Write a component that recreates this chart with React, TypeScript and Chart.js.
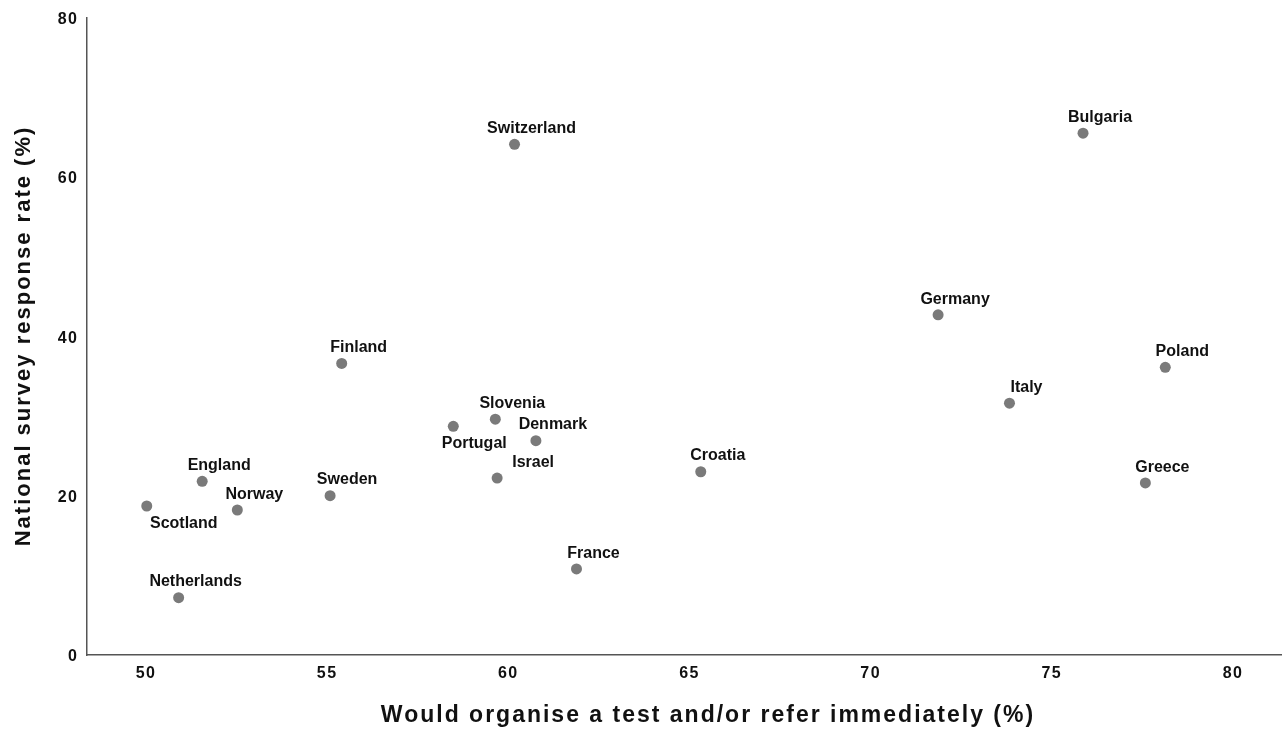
import React, { useEffect, useRef } from 'react';
import { Chart, registerables } from 'chart.js';

Chart.register(...registerables);

const countries = [
  'Switzerland', 'Bulgaria', 'Germany', 'Poland', 'Italy', 'Greece', 'Croatia', 'France', 'Finland',
  'Slovenia', 'Portugal', 'Denmark', 'Israel', 'Sweden', 'England', 'Norway', 'Scotland', 'Netherlands',
];
const testOrRefer = [
  60.17, 75.86, 71.86, 78.13, 73.83, 77.58, 65.31, 61.88, 55.4,
  59.64, 58.48, 60.76, 59.69, 55.08, 51.55, 52.52, 50.02, 50.9,
];
const responseRate = [
  64.1, 65.5, 42.7, 36.1, 31.6, 21.6, 23.0, 10.8, 36.6,
  29.6, 28.7, 26.9, 22.2, 20.0, 21.8, 18.2, 18.7, 7.2,
];
const xTicks = [50, 55, 60, 65, 70, 75, 80];
const yTicks = [0, 20, 40, 60, 80];
const xTitle = 'Would organise a test and/or refer immediately (%)';
const yTitle = 'National survey response rate (%)';

// label placement (style), relative to the dot centre
const defaultLabelOffset: [number, number] = [17, -17];
const labelOffsets: Record<string, [number, number]> = {
  Israel: [36, -16.5],
  Portugal: [21, 16],
  Scotland: [37, 16],
};

const FONT = '"Liberation Sans", Arial, Helvetica, sans-serif';

export default function App() {
  const ref = useRef<HTMLCanvasElement | null>(null);

  useEffect(() => {
    if (!ref.current) return;

    const spacingPlugin = {
      id: 'spacing',
      beforeDraw(chart: any) {
        chart.ctx.letterSpacing = '1.5px';
      },
      afterDraw(chart: any) {
        chart.ctx.letterSpacing = '0px';
      },
    };

    const labelPlugin = {
      id: 'pointLabels',
      afterDatasetsDraw(chart: any) {
        const ctx = chart.ctx;
        const meta = chart.getDatasetMeta(0);
        ctx.save();
        ctx.letterSpacing = '0px';
        ctx.font = `bold 16px ${FONT}`;
        ctx.fillStyle = '#111';
        ctx.textAlign = 'center';
        ctx.textBaseline = 'alphabetic';
        meta.data.forEach((pt: any, i: number) => {
          const name = countries[i];
          const off = labelOffsets[name] || defaultLabelOffset;
          ctx.fillText(name, pt.x + off[0], pt.y + off[1] + 0.716 * 16 / 2);
        });
        ctx.restore();
      },
    };

    const titlePlugin = {
      id: 'axisTitles',
      afterDraw(chart: any) {
        const ctx = chart.ctx;
        ctx.save();
        ctx.fillStyle = '#111';
        ctx.textAlign = 'center';
        ctx.textBaseline = 'middle';
        ctx.letterSpacing = '2px';
        ctx.font = `bold 23px ${FONT}`;
        ctx.fillText(xTitle, 708, 716);
        ctx.translate(24, 336);
        ctx.rotate(-Math.PI / 2);
        ctx.font = `bold 22px ${FONT}`;
        ctx.fillText(yTitle, 0, 0);
        ctx.restore();
      },
    };

    const chart = new Chart(ref.current, {
      type: 'scatter',
      data: {
        datasets: [
          {
            label: 'Countries',
            data: countries.map((_, i) => ({ x: testOrRefer[i], y: responseRate[i] })),
            backgroundColor: '#7a7a7a',
            borderWidth: 0,
            pointRadius: 5.5,
          },
        ],
      },
      options: {
        animation: false,
        responsive: true,
        maintainAspectRatio: false,
        layout: { padding: { top: 17, right: 0, left: 0, bottom: 0 } },
        plugins: {
          legend: { display: false },
          tooltip: { enabled: false },
        },
        scales: {
          x: {
            type: 'linear',
            min: 48.357,
            max: 81.365,
            afterBuildTicks: (scale: any) => {
              scale.ticks = xTicks.map((v) => ({ value: v }));
            },
            afterFit: (scale: any) => {
              scale.height = 74;
            },
            grid: { display: true, color: 'rgba(0,0,0,0)', drawTicks: false },
            border: { display: true, color: '#555', width: 1.5 },
            ticks: {
              padding: 9,
              color: '#111',
              font: { family: FONT, size: 16, weight: 'bold' },
              maxRotation: 0,
            },
          },
          y: {
            type: 'linear',
            min: 0,
            max: 80,
            afterBuildTicks: (scale: any) => {
              scale.ticks = yTicks.map((v) => ({ value: v }));
            },
            afterFit: (scale: any) => {
              scale.width = 86.5;
            },
            grid: { display: true, color: 'rgba(0,0,0,0)', drawTicks: false },
            border: { display: true, color: '#555', width: 1.5 },
            ticks: {
              padding: 8,
              labelOffset: 2,
              color: '#111',
              font: { family: FONT, size: 16, weight: 'bold' },
            },
          },
        },
      },
      plugins: [spacingPlugin, labelPlugin, titlePlugin],
    } as any);

    return () => chart.destroy();
  }, []);

  return (
    <div style={{ position: 'fixed', left: 0, top: 0, width: 1282, height: 729, overflow: 'hidden', background: '#fff' }}>
      <div style={{ position: 'absolute', left: 0, top: 0, width: 1288, height: 729 }}>
        <canvas ref={ref} />
      </div>
    </div>
  );
}
